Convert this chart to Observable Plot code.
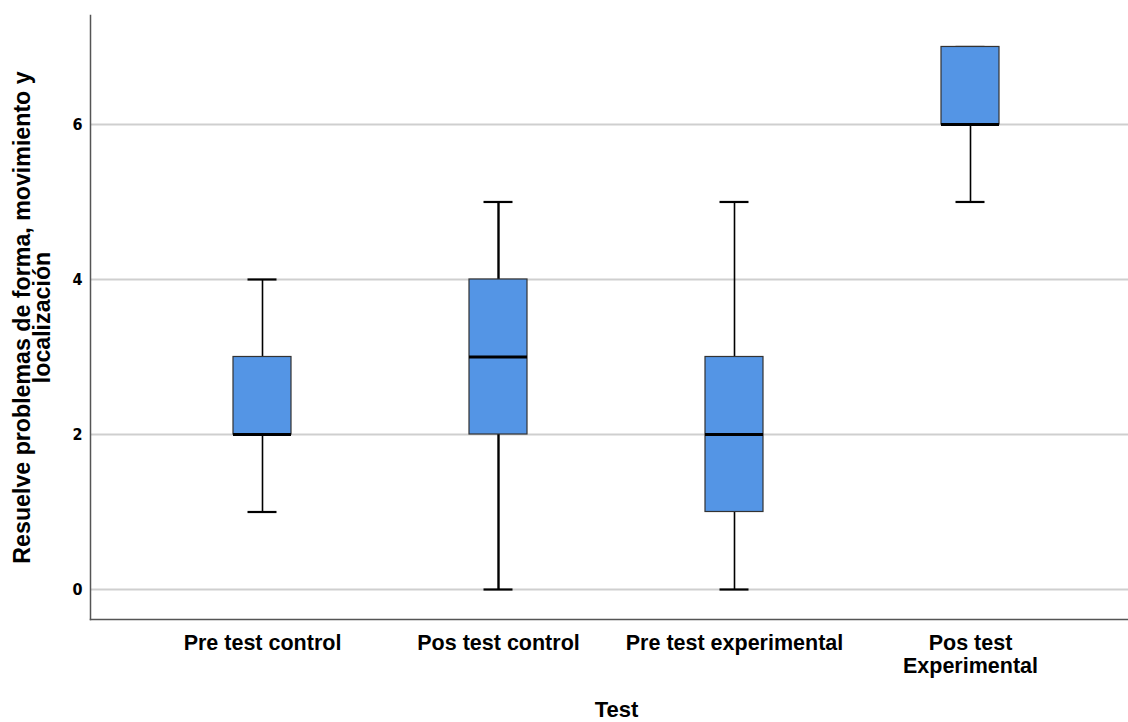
<!DOCTYPE html>
<html>
<head>
<meta charset="utf-8">
<script src="https://cdn.jsdelivr.net/npm/d3@7"></script>
<script src="https://cdn.jsdelivr.net/npm/@observablehq/plot@0.6"></script>
<style>
  html, body { margin: 0; padding: 0; background: #fff; }
  #chart svg { display: block; }
</style>
</head>
<body>
<div id="chart"></div>
<script>
// Data
const categories = ["Pre test control", "Pos test control", "Pre test experimental", "Pos test Experimental"];
const tickLabels = ["Pre test control", "Pos test control", "Pre test experimental", "Pos test\nExperimental"];
const whiskerLow  = [1, 0, 0, 5];
const q1          = [2, 2, 1, 6];
const median      = [2, 3, 2, 6];
const q3          = [3, 4, 3, 7];
const whiskerHigh = [4, 5, 5, 7];
const yTicks = [0, 2, 4, 6];

const rows = categories.map((c, i) => ({
  cat: c, lo: whiskerLow[i], q1: q1[i], med: median[i], q3: q3[i], hi: whiskerHigh[i]
}));
const labelOf = new Map(categories.map((c, i) => [c, tickLabels[i]]));

const tickFont = "'Liberation Sans Narrow', 'DejaVu Sans Condensed', 'Liberation Sans', sans-serif";
const labelFont = "'Liberation Sans', Arial, sans-serif";

const chart = Plot.plot({
  width: 1128,
  height: 722,
  marginTop: 15,
  marginBottom: 103,
  marginLeft: 90,
  marginRight: 0,
  style: { background: "#fff", fontFamily: labelFont },
  x: {
    type: "band",
    domain: categories,
    range: [142.5, 1089.5],
    paddingInner: 0.755,
    paddingOuter: 0.3755,
    label: null
  },
  y: { domain: [-0.387, 7.406], label: null },
  marks: [
    Plot.ruleY(yTicks, { stroke: "#cfcfcf", strokeWidth: 2 }),
    Plot.frame({ anchor: "left", stroke: "#555", strokeWidth: 1.5 }),
    Plot.frame({ anchor: "bottom", stroke: "#555", strokeWidth: 1.5 }),
    Plot.axisY(yTicks, {
      tickSize: 0, tickPadding: 8, fontSize: 16, fontWeight: "bold",
      fontFamily: tickFont, fill: "#000", label: null, tickFormat: d3.format("d")
    }),
    Plot.axisX({
      tickSize: 0, tickPadding: 14, fontSize: 21.5, fontWeight: "bold",
      fontFamily: labelFont, fill: "#000", lineHeight: 1.07,
      tickFormat: d => labelOf.get(d), label: null
    }),
    Plot.ruleX(rows, {
      x: "cat", y1: "lo", y2: "hi", stroke: "#000",
      strokeWidth: d => d.cat === "Pos test control" ? 2.4 : 1.6
    }),
    Plot.tickY(rows, { x: "cat", y: "lo", stroke: "#000", strokeWidth: 2.2, insetLeft: 14.5, insetRight: 14.5 }),
    Plot.tickY(rows, { x: "cat", y: "hi", stroke: "#000", strokeWidth: 2.2, insetLeft: 14.5, insetRight: 14.5 }),
    Plot.barY(rows, { x: "cat", y1: "q1", y2: "q3", fill: "#5495e5", stroke: "#333", strokeWidth: 1.2 }),
    Plot.tickY(rows, { x: "cat", y: "med", stroke: "#000", strokeWidth: 3 }),
    Plot.text(["Resuelve problemas de forma, movimiento y\nlocalización"], {
      frameAnchor: "left", textAnchor: "middle", lineAnchor: "middle",
      rotate: -90, dx: -57, lineHeight: 0.88,
      fontSize: 23.2, fontWeight: "bold", fontFamily: labelFont, fill: "#000"
    }),
    Plot.text(["Test"], {
      frameAnchor: "bottom", lineAnchor: "bottom", dx: 7, dy: 97,
      fontSize: 22, fontWeight: "bold", fontFamily: labelFont, fill: "#000"
    })
  ]
});
document.getElementById("chart").appendChild(chart);
</script>
</body>
</html>
